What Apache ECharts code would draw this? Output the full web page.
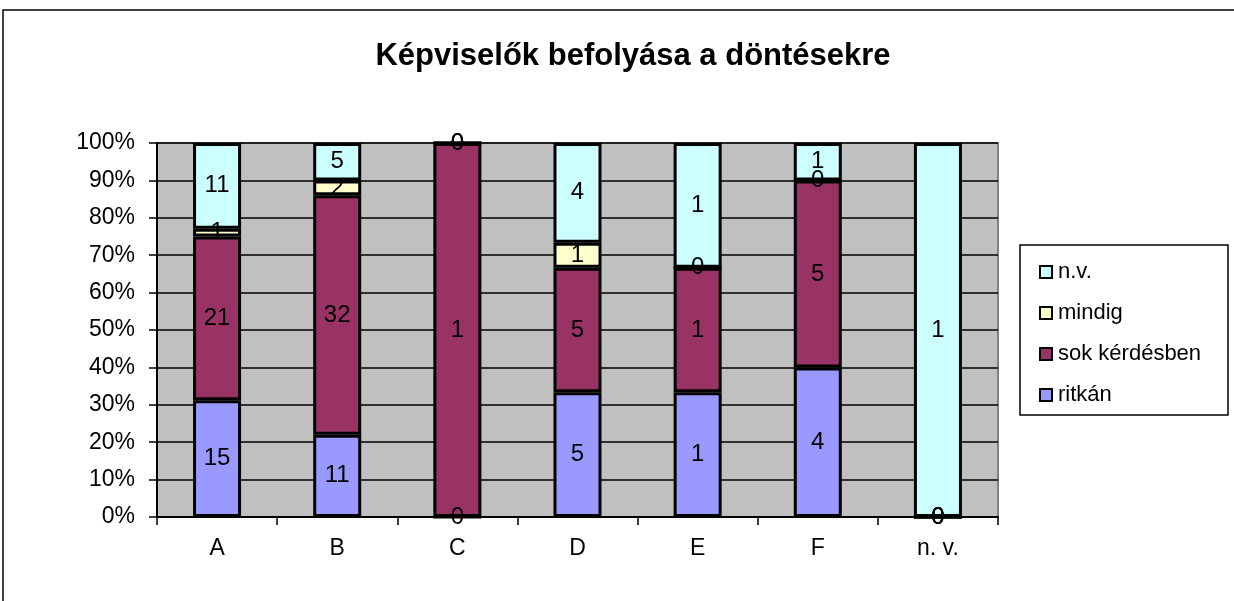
<!DOCTYPE html>
<html>
<head>
<meta charset="utf-8">
<script src="https://cdn.jsdelivr.net/npm/echarts@6/dist/echarts.min.js"></script>
<style>
html,body{margin:0;padding:0;background:#fff;}
#chart{width:1234px;height:601px;}
</style>
</head>
<body>
<div id="chart"></div>
<script>
// kategóriák és nyers darabszámok
var categories = ['A', 'B', 'C', 'D', 'E', 'F', 'n. v.'];
var ritkan = [15, 11, 0, 5, 1, 4, 0];
var sokKerdesben = [21, 32, 1, 5, 1, 5, 0];
var mindig = [1, 2, 0, 1, 0, 0, 0];
var nv = [11, 5, 0, 4, 1, 1, 1];
var yTicks = [0, 10, 20, 30, 40, 50, 60, 70, 80, 90, 100];

var totals = categories.map(function (c, i) {
	return ritkan[i] + sokKerdesben[i] + mindig[i] + nv[i];
});

// 100%-os halmozás: az oszlop magassága arány, a felirat a darabszám
function toPercent(arr) {
	return arr.map(function (v, i) {
		return { value: totals[i] ? v / totals[i] * 100 : 0, raw: v };
	});
}

function makeSeries(name, arr, color) {
	return {
		name: name,
		type: 'bar',
		stack: 'total',
		barWidth: 48,
		data: toPercent(arr),
		itemStyle: {
			color: color,
			borderColor: '#000',
			borderWidth: 3
		},
		label: {
			show: true,
			position: 'inside',
			color: '#000',
			fontFamily: 'Liberation Sans',
			fontSize: 24,
			formatter: function (p) { return p.data.raw; }
		}
	};
}

var dom = document.getElementById('chart');
var myChart = echarts.init(dom);

var option = {
	backgroundColor: '#fff',
	animation: false,
	title: {
		text: 'Képviselők befolyása a döntésekre',
		left: 628,
		top: 36,
		textAlign: 'center',
		textStyle: {
			fontFamily: 'Liberation Sans',
			fontWeight: 'bold',
			fontSize: 31,
			color: '#000'
		}
	},
	graphic: [{
		type: 'rect',
		shape: { x: 3, y: 10, width: 1240, height: 620 },
		style: { fill: 'none', stroke: '#000', lineWidth: 1.5 },
		silent: true,
		z: -1
	}, {
		type: 'rect',
		shape: { x: 1020, y: 245, width: 208, height: 170 },
		style: { fill: '#fff', stroke: '#000', lineWidth: 1.5 },
		silent: true,
		z: 0
	}],
	legend: {
		data: ['n.v.', 'mindig', 'sok kérdésben', 'ritkán'],
		orient: 'vertical',
		left: 1034,
		top: 256,
		itemGap: 19,
		itemWidth: 12,
		itemHeight: 12,
		icon: 'rect',
		itemStyle: { borderColor: '#000', borderWidth: 2 },
		textStyle: {
			fontFamily: 'Liberation Sans',
			fontSize: 22,
			color: '#000',
			padding: [0, 0, 0, 1]
		},
		z: 5
	},
	grid: {
		left: 157,
		right: 236,
		top: 143,
		bottom: 84,
		show: true,
		backgroundColor: '#C0C0C0',
		borderColor: '#808080',
		borderWidth: 2
	},
	xAxis: {
		type: 'category',
		data: categories,
		axisLine: { lineStyle: { color: '#000', width: 2 } },
		axisTick: { show: true, length: 8, lineStyle: { color: '#000', width: 1.5 } },
		axisLabel: {
			fontFamily: 'Liberation Sans',
			fontSize: 23,
			color: '#000',
			margin: 20
		}
	},
	yAxis: {
		type: 'value',
		min: 0,
		max: 100,
		interval: 10,
		axisLine: { show: true, lineStyle: { color: '#000', width: 2 } },
		axisTick: { show: true, length: 8, lineStyle: { color: '#000', width: 1.5 } },
		splitLine: { lineStyle: { color: '#000', width: 1.5 } },
		axisLabel: {
			fontFamily: 'Liberation Sans',
			fontSize: 23,
			color: '#000',
			margin: 22,
			formatter: function (v) {
				return yTicks.indexOf(v) >= 0 ? v + '%' : '';
			}
		}
	},
	series: [
		makeSeries('ritkán', ritkan, '#9999FF'),
		makeSeries('sok kérdésben', sokKerdesben, '#993366'),
		makeSeries('mindig', mindig, '#FFFFCC'),
		makeSeries('n.v.', nv, '#CCFFFF')
	]
};

myChart.setOption(option, true);
</script>
</body>
</html>
